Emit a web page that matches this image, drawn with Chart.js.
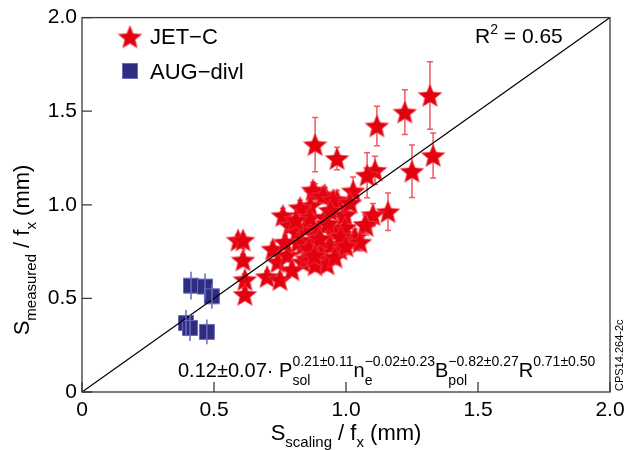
<!DOCTYPE html>
<html>
<head>
<meta charset="utf-8">
<script src="https://cdn.jsdelivr.net/npm/chart.js@4.4.1/dist/chart.umd.min.js"></script>
<style>
  body { margin: 0; background: #fff; }
</style>
</head>
<body>
<canvas id="chart" width="641" height="450"></canvas>
<script>
// JET-C points (x = S_scaling/f_x, y = S_measured/f_x, err = vertical error)
const jetX = [1.318, 1.223, 1.117, 1.330, 1.250, 0.883, 0.966, 1.159, 1.110, 1.080, 1.027, 1.102, 1.076, 0.989, 0.966, 0.920,
  0.883, 0.875, 0.913, 0.951, 0.864, 0.761, 0.788, 0.814, 0.837, 0.837, 0.890, 0.902, 0.951, 0.977, 1.027, 0.996,
  0.951, 0.977, 0.902, 0.852, 0.883, 0.591, 0.610, 0.610, 0.617, 0.617, 0.723, 0.742, 0.701, 0.750, 0.777, 1.072,
  1.034, 1.053, 0.939, 0.845, 0.818, 0.826, 0.864, 0.920, 0.894, 0.871, 0.928, 0.795, 0.769, 0.958, 0.996, 1.015,
  0.930, 0.860, 0.980, 0.900, 1.000, 0.880, 0.940, 0.810]
const jetY = [1.584, 1.495, 1.421, 1.263, 1.179, 1.321, 1.247, 0.963, 1.184, 1.158, 1.074, 0.947, 0.889, 0.942, 1.026, 1.053,
  1.063, 1.079, 1.047, 1.026, 0.995, 0.942, 0.889, 0.853, 0.784, 0.695, 0.695, 0.763, 0.853, 0.763, 0.811, 0.947,
  0.863, 0.789, 0.747, 0.711, 0.679, 0.811, 0.811, 0.705, 0.600, 0.521, 0.763, 0.695, 0.616, 0.600, 0.732, 0.895,
  0.826, 0.800, 0.784, 0.879, 0.800, 0.984, 0.932, 0.932, 0.863, 0.811, 0.684, 0.653, 0.800, 0.721, 0.879, 1.011,
  0.900, 0.770, 0.830, 0.820, 0.780, 0.730, 0.970, 0.920]
const jetErr = [0.18, 0.12, 0.105, 0.12, 0.14, 0.145, 0.06, 0.10, 0.075, 0.12, 0.075, 0.06, 0.05, 0.05, 0.05, 0.04,
  0.05, 0.04, 0.04, 0.04, 0.04, 0.04, 0.035, 0.04, 0.04, 0.035, 0.04, 0.045, 0.05, 0.04, 0.045, 0.05,
  0.04, 0.04, 0.035, 0.04, 0.035, 0.03, 0.03, 0.03, 0.03, 0.03, 0.035, 0.03, 0.03, 0.03, 0.035, 0.05,
  0.045, 0.045, 0.04, 0.04, 0.035, 0.04, 0.04, 0.04, 0.04, 0.04, 0.035, 0.03, 0.035, 0.04, 0.045, 0.05,
  0.04, 0.035, 0.04, 0.04, 0.045, 0.035, 0.04, 0.035]

// AUG-divl points
const augX = [0.413, 0.466, 0.492, 0.394, 0.409, 0.473]
const augY = [0.568, 0.563, 0.511, 0.368, 0.342, 0.321]
const augErr = [0.074, 0.07, 0.066, 0.07, 0.07, 0.066]

// y = x reference line
const diagX = [0, 2]
const diagY = [0, 2]

const tickValues = [0, 0.5, 1, 1.5, 2]
const tickLabels = ['0', '0.5', '1.0', '1.5', '2.0']

const FONT = '"Liberation Sans", Arial, Helvetica, sans-serif'
const RED = '#e3000f'
const RED_BAR = '#ef5a63'
const BLUE = '#2d2d84'
const BLUE_EDGE = '#6b6bb8'

const makeStar = (r, color) => {
    const size = Math.ceil(r * 2 + 2)
    const c = document.createElement('canvas')
    c.width = size
    c.height = size
    const g = c.getContext('2d')
    g.beginPath()
    for (let i = 0; i < 10; i++) {
        const a = -Math.PI / 2 + i * Math.PI / 5
        const rad = i % 2 ? r * 0.44 : r
        const px = size / 2 + rad * Math.cos(a)
        const py = size / 2 + 1 + rad * Math.sin(a)
        if (i === 0) g.moveTo(px, py)
        else g.lineTo(px, py)
    }
    g.closePath()
    g.fillStyle = color
    g.fill()
    g.strokeStyle = 'rgba(240,90,100,0.8)'
    g.lineWidth = 0.6
    g.stroke()
    return c
}

const starImg = makeStar(12.5, RED)

const toPoints = (xs, ys) => xs.map((x, i) => ({ x: x, y: ys[i] }))

// draws a run of text pieces: {t, size, dy, keep} ; keep = don't advance (for sub under sup)
const drawRuns = (ctx, x, y, runs) => {
    let cx = x
    let pending = 0
    runs.forEach(r => {
        ctx.font = `${r.size}px ${FONT}`
        const w = ctx.measureText(r.t).width
        ctx.fillText(r.t, cx, y + (r.dy || 0))
        if (r.keep) {
            pending = Math.max(pending, w)
        } else {
            cx += Math.max(w, pending)
            pending = 0
        }
    })
    return cx - x
}

const measureRuns = (ctx, runs) => {
    let total = 0
    let pending = 0
    runs.forEach(r => {
        ctx.font = `${r.size}px ${FONT}`
        const w = ctx.measureText(r.t).width
        if (r.keep) pending = Math.max(pending, w)
        else { total += Math.max(w, pending); pending = 0 }
    })
    return total
}

const errorBars = (chart, xs, ys, es, color, cap) => {
    const sx = chart.scales.x
    const sy = chart.scales.y
    const ctx = chart.ctx
    ctx.save()
    ctx.strokeStyle = color
    ctx.lineWidth = 1.5
    xs.forEach((x, i) => {
        const px = sx.getPixelForValue(x)
        const top = sy.getPixelForValue(ys[i] + es[i])
        const bot = sy.getPixelForValue(ys[i] - es[i])
        ctx.beginPath()
        ctx.moveTo(px, top)
        ctx.lineTo(px, bot)
        if (cap) {
            ctx.moveTo(px - cap, top)
            ctx.lineTo(px + cap, top)
            ctx.moveTo(px - cap, bot)
            ctx.lineTo(px + cap, bot)
        }
        ctx.stroke()
    })
    ctx.restore()
}

const decor = {
    id: 'decor',
    beforeDatasetsDraw(chart) {
        errorBars(chart, jetX, jetY, jetErr, RED_BAR, 3)
    },
    afterDatasetsDraw(chart) {
        errorBars(chart, augX, augY, augErr, BLUE_EDGE, 0)
    },
    afterDraw(chart) {
        const ctx = chart.ctx
        const a = chart.chartArea
        const sx = chart.scales.x
        const sy = chart.scales.y
        ctx.save()

        // frame
        ctx.strokeStyle = '#3a3a3a'
        ctx.lineWidth = 1.3
        ctx.strokeRect(a.left, a.top, a.right - a.left, a.bottom - a.top)

        // inward ticks
        ctx.beginPath()
        tickValues.forEach(v => {
            const px = sx.getPixelForValue(v)
            ctx.moveTo(px, a.bottom)
            ctx.lineTo(px, a.bottom - 10)
            const py = sy.getPixelForValue(v)
            ctx.moveTo(a.left, py)
            ctx.lineTo(a.left + 10, py)
        })
        ctx.stroke()

        ctx.fillStyle = '#000'
        ctx.textBaseline = 'alphabetic'
        ctx.textAlign = 'left'

        // x title
        const xt = [
            { t: 'S', size: 22 },
            { t: 'scaling', size: 15, dy: 7 },
            { t: ' / f', size: 22 },
            { t: 'x', size: 15, dy: 7 },
            { t: ' (mm)', size: 22 }
        ]
        const xw = measureRuns(ctx, xt)
        drawRuns(ctx, (a.left + a.right) / 2 - xw / 2, 440, xt)

        // y title
        const yt = [
            { t: 'S', size: 22 },
            { t: 'measured', size: 15, dy: 7 },
            { t: ' / f', size: 22 },
            { t: 'x', size: 15, dy: 7 },
            { t: ' (mm)', size: 22 }
        ]
        const yw = measureRuns(ctx, yt)
        ctx.save()
        ctx.translate(29, 250)
        ctx.rotate(-Math.PI / 2)
        drawRuns(ctx, -yw / 2, 0, yt)
        ctx.restore()

        // legend
        ctx.drawImage(starImg, 130 - starImg.width / 2, 37 - starImg.height / 2)
        ctx.fillStyle = BLUE
        ctx.fillRect(122, 63, 16, 16)
        ctx.strokeStyle = BLUE_EDGE
        ctx.lineWidth = 1
        ctx.strokeRect(122.5, 63.5, 15, 15)
        ctx.fillStyle = '#000'
        ctx.font = `22px ${FONT}`
        ctx.fillText('JET\u2212C', 150, 44)
        ctx.fillText('AUG\u2212divl', 150, 79)

        // R^2
        drawRuns(ctx, 475, 43, [
            { t: 'R', size: 21 },
            { t: '2', size: 14, dy: -9 },
            { t: ' = 0.65', size: 21 }
        ])

        // scaling formula
        drawRuns(ctx, 178, 377, [
            { t: '0.12\u00b10.07\u00b7 P', size: 20 },
            { t: '0.21\u00b10.11', size: 14, dy: -11, keep: true },
            { t: 'sol', size: 14, dy: 8 },
            { t: 'n', size: 20 },
            { t: '\u22120.02\u00b10.23', size: 14, dy: -11, keep: true },
            { t: 'e', size: 14, dy: 8 },
            { t: 'B', size: 20 },
            { t: '\u22120.82\u00b10.27', size: 14, dy: -11, keep: true },
            { t: 'pol', size: 14, dy: 8 },
            { t: 'R', size: 20 },
            { t: '0.71\u00b10.50', size: 14, dy: -11 }
        ])

        // figure id
        ctx.save()
        ctx.translate(623, 391)
        ctx.rotate(-Math.PI / 2)
        ctx.font = `11px ${FONT}`
        ctx.fillText('CPS14.264-2c', 0, 0)
        ctx.restore()

        ctx.restore()
    }
}

const ctx = document.getElementById('chart').getContext('2d')

new Chart(ctx, {
    data: {
        datasets: [
            {
                type: 'line',
                label: 'y = x',
                data: toPoints(diagX, diagY),
                borderColor: '#000',
                borderWidth: 1.2,
                pointRadius: 0,
                fill: false,
                order: 0
            },
            {
                type: 'scatter',
                label: 'JET\u2212C',
                data: toPoints(jetX, jetY),
                pointStyle: starImg,
                pointRadius: 12,
                order: 1
            },
            {
                type: 'scatter',
                label: 'AUG\u2212divl',
                data: toPoints(augX, augY),
                pointStyle: 'rect',
                pointRadius: 10.6,
                backgroundColor: BLUE,
                borderColor: BLUE_EDGE,
                borderWidth: 1,
                order: 2
            }
        ]
    },
    options: {
        responsive: false,
        animation: false,
        devicePixelRatio: 1,
        layout: { padding: { left: 0, right: 31, top: 12, bottom: 0 } },
        plugins: {
            legend: { display: false },
            tooltip: { enabled: false }
        },
        scales: {
            x: {
                type: 'linear',
                min: 0,
                max: 2,
                afterFit: scale => { scale.height = 58 },
                afterBuildTicks: scale => { scale.ticks = tickValues.map(v => ({ value: v })) },
                grid: { display: false, drawTicks: false },
                border: { display: false },
                ticks: {
                    padding: 6,
                    color: '#000',
                    font: { family: FONT, size: 21 },
                    maxRotation: 0,
                    callback: (v, i) => tickLabels[i]
                }
            },
            y: {
                type: 'linear',
                min: 0,
                max: 2,
                afterFit: scale => { scale.width = 82 },
                afterBuildTicks: scale => { scale.ticks = tickValues.map(v => ({ value: v })) },
                grid: { display: false, drawTicks: false },
                border: { display: false },
                ticks: {
                    padding: 5,
                    color: '#000',
                    font: { family: FONT, size: 21 },
                    callback: (v, i) => tickLabels[i]
                }
            }
        }
    },
    plugins: [decor]
})
</script>
</body>
</html>
